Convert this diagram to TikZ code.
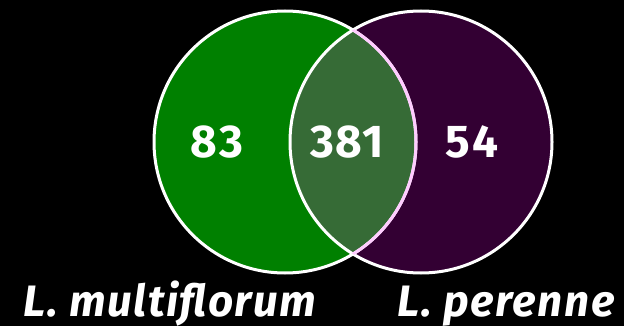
\documentclass[tikz,border=0pt]{standalone}
\usepackage{fontspec}
\setmainfont{Fira Sans}
\usetikzlibrary{positioning}
\definecolor{vnGreen}{HTML}{008000}
\definecolor{vnPlum}{HTML}{330033}
\definecolor{vnLens}{HTML}{366B36}
\definecolor{vnPink}{HTML}{FFCCFF}
\tikzset{
  vn ring/.style={draw=white, line width=3pt},
  vn count/.style={font=\fontsize{46}{50}\selectfont\bfseries\addfontfeature{LetterSpace=3}, text=white, anchor=base, inner sep=0pt},
  vn label/.style={font=\fontsize{44}{50}\selectfont\bfseries\itshape\addfontfeature{LetterSpace=3.5}, text=white, anchor=base, inner sep=0pt},
}

\begin{document}
\begin{tikzpicture}[x=1pt,y=-1pt]
  % Black page, same size as the reference
  \fill[black] (0,0) rectangle (624,326);
  \useasboundingbox (0,0) rectangle (624,326);
  \coordinate (multi) at (285,142);
  \coordinate (peren) at (421,142);

  % Fills of the two sets and their overlap
  \fill[vnGreen] (multi) circle (131pt);
  \fill[vnPlum] (peren) circle (131pt);
  \begin{scope}
    \clip (multi) circle (131pt);
    \fill[vnLens] (peren) circle (131pt);
  \end{scope}

  % Rings, pink where the green one runs inside the purple one
  \draw[vn ring] (multi) circle (131pt);
  \draw[vn ring] (peren) circle (131pt);
  \begin{scope}
    \clip (peren) circle (131pt);
    \draw[vn ring, draw=vnPink] (multi) circle (131pt);
  \end{scope}

  % Counts
  \node[vn count] (onlymulti) at (217,158) {83};
  \node[vn count] (shared) at (347,158) {381};
  \node[vn count] (onlyperen) at (472,158) {54};

  % Species names
  \node[vn label] (multiname) at (170,316) {L. multiflorum};
  \node[vn label] (perenname) at (506,316) {L. perenne};
\end{tikzpicture}
\end{document}
